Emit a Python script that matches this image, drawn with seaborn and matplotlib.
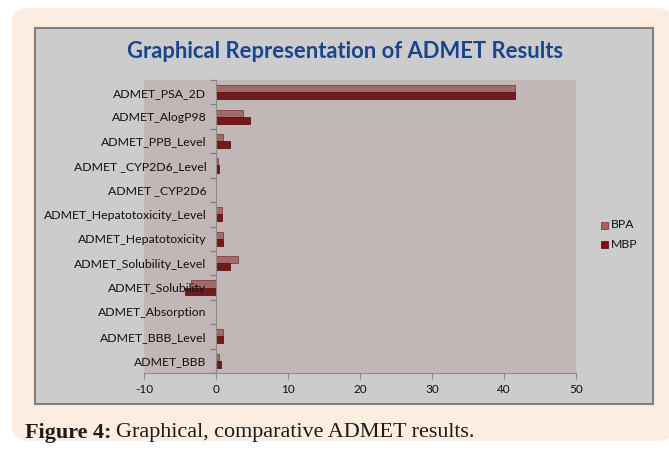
import pandas as pd
import matplotlib.pyplot as plt
from matplotlib.patches import FancyBboxPatch, Rectangle
from matplotlib.ticker import FixedLocator, NullFormatter
import seaborn as sns

sns.set_style('white')
plt.rcParams['font.family'] = ['Lato', 'DejaVu Sans']
plt.rcParams['axes.unicode_minus'] = False

# values
params = ['ADMET_PSA_2D', 'ADMET_AlogP98', 'ADMET_PPB_Level', 'ADMET _CYP2D6_Level',
          'ADMET _CYP2D6', 'ADMET_Hepatotoxicity_Level', 'ADMET_Hepatotoxicity',
          'ADMET_Solubility_Level', 'ADMET_Solubility', 'ADMET_Absorption',
          'ADMET_BBB_Level', 'ADMET_BBB']
bpa = [41.5, 3.7, 1.0, 0.3, 0.0, 0.8, 1.0, 3.0, -3.5, 0.0, 1.0, 0.4]
mbp = [41.5, 4.7, 2.0, 0.4, 0.0, 0.9, 1.0, 2.0, -4.3, 0.0, 1.0, 0.7]
compounds = ['BPA', 'MBP']
xticks = [-10, 0, 10, 20, 30, 40, 50]

df = pd.DataFrame({'param': params * 2,
                   'value': bpa + mbp,
                   'compound': ['BPA'] * len(params) + ['MBP'] * len(params)})

W, H = 669, 455
fig = plt.figure(figsize=(W / 100, H / 100), dpi=100)
fig.patch.set_facecolor('white')

### background panels
fig.patches.append(FancyBboxPatch((12 / W, 1 - 441 / H), 0.99, 433 / H,
                                  boxstyle='round,pad=0,rounding_size=0.03',
                                  transform=fig.transFigure, facecolor='#fdede0',
                                  edgecolor='none', zorder=0))
fig.patches.append(Rectangle((35 / W, 1 - 404 / H), 618 / W, 376 / H,
                             transform=fig.transFigure, facecolor='#cccccc',
                             edgecolor='#7f7f7f', linewidth=1.5, zorder=1))

ax = fig.add_axes([144 / W, 1 - 373 / H, 432 / W, 293 / H])
ax.set_zorder(2)
ax.set_facecolor('#c2b6b6')

sns.barplot(data=df, y='param', x='value', hue='compound', orient='h', order=params,
            hue_order=compounds, palette={'BPA': '#a86262', 'MBP': '#7a1010'},
            width=0.58, gap=0, errorbar=None, ax=ax, legend=False)
for bar, ec in zip(ax.patches, ['#8c3a3a'] * len(params) + ['#6a0c0c'] * len(params)):
    bar.set_edgecolor(ec)
    bar.set_linewidth(0.6)
    bar.set_zorder(1)

ax.set_xlim(-10, 50)
ax.set_ylim(len(params) - 0.5, -0.5)
ax.set_xticks(xticks)
ax.set_xlabel('')
ax.set_ylabel('')
ax.set_axisbelow(False)

# category axis crosses at 0, Excel style
for s in ['top', 'right']:
    ax.spines[s].set_visible(False)
ax.spines['left'].set_position(('data', 0))
ax.spines['left'].set_color('#8c8c8c')
ax.spines['bottom'].set_color('#8c8c8c')
ax.yaxis.set_minor_locator(FixedLocator([i - 0.5 for i in range(len(params) + 1)]))
ax.yaxis.set_minor_formatter(NullFormatter())
ax.tick_params(axis='y', which='major', length=0, labelsize=8.8, pad=7, colors='#111111')
ax.tick_params(axis='y', which='minor', length=4, width=0.9, direction='out',
               color='#808080', left=True)
ax.tick_params(axis='x', length=4, direction='out', color='#8c8c8c', labelsize=8.5,
               pad=4, bottom=True, labelcolor='#111111')

fig.text(0.516, 1 - 52 / H, 'Graphical Representation of ADMET Results', ha='center',
         va='center', fontsize=15.8, fontweight='bold', color='#1a448c', zorder=3)

### legend
for i, (c, ec) in enumerate([('#a86262', '#8c3a3a'), ('#7a1010', '#6a0c0c')]):
    y = 225 + i * 20
    fig.patches.append(Rectangle((601 / W, 1 - (y + 3.5) / H), 7 / W, 7 / H,
                                 transform=fig.transFigure, facecolor=c, edgecolor=ec,
                                 linewidth=0.6, zorder=3))
    fig.text(611 / W, 1 - y / H, compounds[i], va='center', fontsize=8.8, color='#111111',
             zorder=3)

### caption
cap1 = fig.text(25 / W, 1 - 433 / H, 'Figure 4:', va='center', fontsize=15.9,
                fontweight='bold', family='Liberation Serif', color='#1a1a1a')
bb = cap1.get_window_extent(renderer=fig.canvas.get_renderer())
fig.text(bb.x1 / W + 5 / W, 1 - 433 / H, 'Graphical, comparative ADMET results.',
         va='center', fontsize=15.9, family='Liberation Serif', color='#1a1a1a')

fig.savefig('out.png', dpi=100)
